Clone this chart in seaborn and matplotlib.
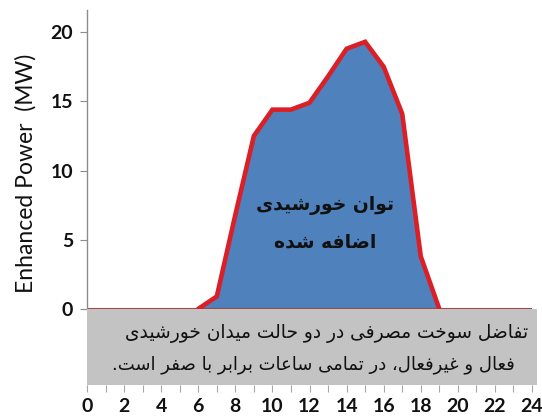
import matplotlib
matplotlib.use("Agg")
import matplotlib.pyplot as plt
import seaborn as sns
import pandas as pd
from matplotlib.patches import Rectangle
from matplotlib.ticker import MultipleLocator

# ---------------- data ----------------
hours = list(range(0, 25))
power = [0, 0, 0, 0, 0, 0, 0, 0.9, 6.8, 12.5, 14.4, 14.4, 14.9, 16.8,
         18.8, 19.3, 17.5, 14.1, 3.8, 0, 0, 0, 0, 0, 0]
x_ticks = list(range(0, 25, 2))
y_ticks = [0, 5, 10, 15, 20]
y_label = "Enhanced Power  (MW)"
area_label_1 = "توان خورشیدی"
area_label_2 = "اضافه شده"
box_line_1 = "تفاضل سوخت مصرفی در دو حالت میدان خورشیدی"
box_line_2 = "فعال و غیرفعال، در تمامی ساعات برابر با صفر است."

# ---------------- minimal Persian shaping (contextual forms + RTL) ----------------
FORMS = {  # isolated, final, initial, medial
    "ا": ("\uFE8D", "\uFE8E", None, None),
    "ب": ("\uFE8F", "\uFE90", "\uFE91", "\uFE92"),
    "ت": ("\uFE95", "\uFE96", "\uFE97", "\uFE98"),
    "ح": ("\uFEA1", "\uFEA2", "\uFEA3", "\uFEA4"),
    "خ": ("\uFEA5", "\uFEA6", "\uFEA7", "\uFEA8"),
    "د": ("\uFEA9", "\uFEAA", None, None),
    "ر": ("\uFEAD", "\uFEAE", None, None),
    "س": ("\uFEB1", "\uFEB2", "\uFEB3", "\uFEB4"),
    "ش": ("\uFEB5", "\uFEB6", "\uFEB7", "\uFEB8"),
    "ص": ("\uFEB9", "\uFEBA", "\uFEBB", "\uFEBC"),
    "ض": ("\uFEBD", "\uFEBE", "\uFEBF", "\uFEC0"),
    "ع": ("\uFEC9", "\uFECA", "\uFECB", "\uFECC"),
    "غ": ("\uFECD", "\uFECE", "\uFECF", "\uFED0"),
    "ف": ("\uFED1", "\uFED2", "\uFED3", "\uFED4"),
    "ل": ("\uFEDD", "\uFEDE", "\uFEDF", "\uFEE0"),
    "م": ("\uFEE1", "\uFEE2", "\uFEE3", "\uFEE4"),
    "ن": ("\uFEE5", "\uFEE6", "\uFEE7", "\uFEE8"),
    "ه": ("\uFEE9", "\uFEEA", "\uFEEB", "\uFEEC"),
    "و": ("\uFEED", "\uFEEE", None, None),
    "ی": ("\uFBFC", "\uFBFD", "\uFBFE", "\uFBFF"),
}


def shape(text):
    out = []
    n = len(text)
    for i, c in enumerate(text):
        if c not in FORMS:
            out.append(c)
            continue
        iso, fin, ini, med = FORMS[c]
        prev = text[i - 1] if i > 0 else ""
        nxt = text[i + 1] if i < n - 1 else ""
        joins_prev = prev in FORMS and FORMS[prev][2] is not None
        joins_next = nxt in FORMS and ini is not None
        if joins_prev and joins_next:
            out.append(med)
        elif joins_prev:
            out.append(fin)
        elif joins_next:
            out.append(ini)
        else:
            out.append(iso)
    return "".join(out)[::-1]


# ---------------- style ----------------
sns.set_style("white")
plt.rcParams["font.family"] = ["Lato", "DejaVu Sans"]

W, H = 542, 416
fig = plt.figure(figsize=(W / 100, H / 100), dpi=100)
ax = fig.add_axes([87 / W, 1 - 385 / H, (532 - 87) / W, (385 - 10) / H])

df = pd.DataFrame({"hour": hours, "power": power})
active = df[(df["hour"] >= 6) & (df["hour"] <= 19)]

blue = "#4F81BD"
red = "#DA1F26"

ax.fill_between(df["hour"], 0, df["power"], color=blue, linewidth=0, zorder=2)
ax.axhline(0, color="#9C4A4A", linewidth=1.5, zorder=2.2)
sns.lineplot(data=active, x="hour", y="power", color=red, linewidth=3.3,
             ax=ax, zorder=2.5, solid_joinstyle="miter")

ax.set_xlim(0, 24)
ax.set_ylim(-5.5, 21.6)

# gray annotation box below zero
ax.add_patch(Rectangle((0, -5.5), 24.25, 5.5, facecolor="#C3C3C3",
                       edgecolor="none", zorder=3, clip_on=False))

ax.set_xticks(x_ticks)
ax.xaxis.set_minor_locator(MultipleLocator(1))
ax.set_yticks(y_ticks)
ax.set_xlabel("")
ax.set_ylabel("")

for s in ["top", "right", "bottom"]:
    ax.spines[s].set_visible(False)
ax.spines["left"].set_color("#8C8C8C")
ax.spines["left"].set_linewidth(1.0)
ax.spines["left"].set_bounds(0, 21.6)

ax.tick_params(axis="x", which="both", direction="out", length=5, width=0.8,
               color="#A6A6A6", bottom=True, pad=4)
ax.tick_params(axis="y", which="major", direction="out", length=5, width=0.8,
               color="#8C8C8C", left=True, pad=5)
for lab in ax.get_xticklabels() + ax.get_yticklabels():
    lab.set_fontweight("bold")
    lab.set_fontsize(14)
    lab.set_color("#111111")

fig.text(26 / W, 1 - 173 / H, y_label, rotation=90, ha="center", va="center",
         fontsize=16.5, color="#111111")

# Persian texts
ax.text(12.85, 7.45, shape(area_label_1), ha="center", va="center",
        fontsize=13.5, fontweight="bold", family=["DejaVu Sans"],
        color="#111111", zorder=5)
ax.text(12.85, 4.8, shape(area_label_2), ha="center", va="center",
        fontsize=13.5, fontweight="bold", family=["DejaVu Sans"],
        color="#111111", zorder=5)
ax.text(12.9, -1.8, shape(box_line_1), ha="center", va="center",
        fontsize=13.4, family=["DejaVu Sans"], color="#111111", zorder=5)
ax.text(12.2, -4.05, shape(box_line_2), ha="center", va="center",
        fontsize=13.0, family=["DejaVu Sans"], color="#111111", zorder=5)

fig.savefig("out.png", dpi=100)
